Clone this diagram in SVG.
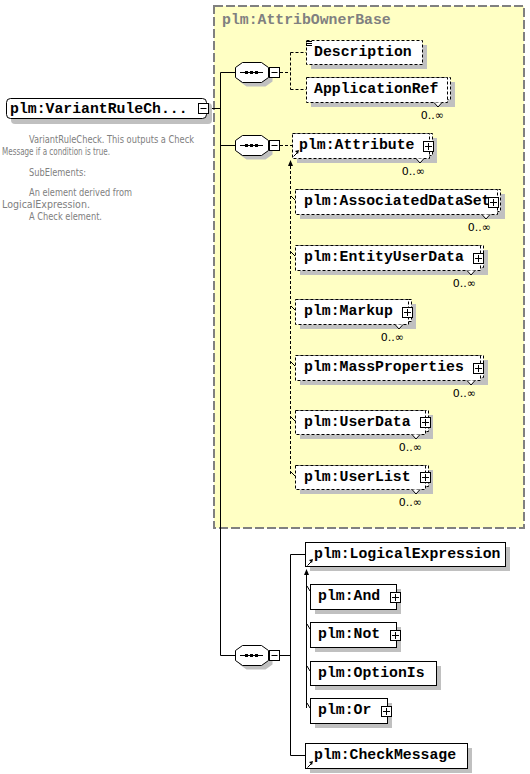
<svg xmlns="http://www.w3.org/2000/svg" xmlns:xlink="http://www.w3.org/1999/xlink" width="530" height="774" viewBox="0 0 530 774">
<style>
.box{fill:#fff;stroke:#000;stroke-width:1}
.dbox{fill:#fff;stroke:#000;stroke-width:1;stroke-dasharray:3 2}
.sh{fill:#c0c0c0}
.lbl{font-family:"Liberation Mono","DejaVu Sans Mono",monospace;font-weight:bold;font-size:14.8px;fill:#000}
.occ{font-family:"DejaVu Sans","Liberation Sans",sans-serif;font-size:11px;fill:#000}
.doc{font-family:"DejaVu Sans","Liberation Sans",sans-serif;font-size:10.3px;fill:#808080}
.ln{stroke:#000;stroke-width:1;fill:none}
.dl{stroke:#000;stroke-width:1;fill:none;stroke-dasharray:3 2}
.chev{fill:#fff;stroke:#000;stroke-width:1}
</style>
<defs>
<g id="plus"><rect x="0.5" y="0.5" width="10" height="10" fill="#fff" stroke="#000"/><path d="M2 5.5H9M5.5 2V9" stroke="#000" stroke-width="1"/></g>
<g id="minus"><rect x="0.5" y="0.5" width="10" height="10" fill="#fff" stroke="#000"/><path d="M2.5 5.5H8.5" stroke="#000"/></g>
<g id="seq">
<polygon points="11.5,4.5 30.5,4.5 37.5,9.5 37.5,19.5 30.5,24.5 11.5,24.5 4.5,19.5 4.5,9.5" fill="#c0c0c0"/>
<polygon points="7.5,0.5 26.5,0.5 33.5,5.5 33.5,15.5 26.5,20.5 7.5,20.5 0.5,15.5 0.5,5.5" fill="#fff" stroke="#000"/>
<path d="M5 10.5H28" stroke="#000"/>
<rect x="10" y="9" width="3" height="3" fill="#000"/><rect x="15" y="9" width="3" height="3" fill="#000"/><rect x="20" y="9" width="3" height="3" fill="#000"/>
<use xlink:href="#minus" x="34" y="5"/>
</g>
<g id="ref"><path d="M0.5 6.5L4 3" stroke="#000"/><polygon points="6,0 2,1 5,4" fill="#000"/></g>
</defs>

<g id="attribOwnerBase">
<rect x="214" y="6" width="310" height="522" fill="#ffffc4" stroke="#808080" stroke-width="2" stroke-dasharray="9 3"/>
<text class="lbl" x="222" y="24" style="fill:#808080">plm:AttribOwnerBase</text>
</g>

<g id="connectors">
<path class="ln" d="M208.5 108.5H220.5M220.5 72.5V655.5M220.5 72.5H235M220.5 145.5H235M220.5 655.5H235"/>
<path class="dl" d="M280 72.5H290.5M290.5 52.5V89.5M290.5 52.5H306M290.5 89.5H306"/>
<path class="dl" d="M280 145.5H292M290.5 166V476"/>
<polygon points="290.5,160 288,166 293,166" fill="#000"/>
<path class="ln" d="M291 196L295 200M291 252L295 256M291 306L295 310M291 362L295 366M291 417L295 421M291 472L295 476"/>
<path class="ln" d="M280 655.5H290.5M290.5 554.5V755.5M290.5 554.5H305M290.5 755.5H305"/>
<path class="ln" d="M306.5 574V708"/>
<polygon points="306.5,569 304,575 309,575" fill="#000"/>
<path class="ln" d="M307 586L310 591M307 624L310 629M307 666L310 671M307 703L310 708"/>
</g>

<g id="seq1"><use xlink:href="#seq" x="235" y="62"/></g>
<g id="seq2"><use xlink:href="#seq" x="235" y="135"/></g>
<g id="seq3"><use xlink:href="#seq" x="235" y="645"/></g>

<g id="root">
<rect class="sh" x="11" y="103" width="201" height="21" rx="4"/>
<rect class="box" x="6.5" y="98.5" width="200" height="20" rx="4"/>
<text class="lbl" x="10" y="113">plm:VariantRuleCh...</text>
<use xlink:href="#minus" x="198" y="103"/>
</g>

<g id="rootDoc">
<text class="doc" x="29" y="143" textLength="165" lengthAdjust="spacingAndGlyphs">VariantRuleCheck. This outputs a Check</text>
<text class="doc" x="2" y="155" textLength="108" lengthAdjust="spacingAndGlyphs">Message if a condition is true.</text>
<text class="doc" x="29" y="176" textLength="57" lengthAdjust="spacingAndGlyphs">SubElements:</text>
<text class="doc" x="29" y="196" textLength="103" lengthAdjust="spacingAndGlyphs">An element derived from</text>
<text class="doc" x="2" y="208" textLength="88" lengthAdjust="spacingAndGlyphs">LogicalExpression.</text>
<text class="doc" x="29" y="220" textLength="73" lengthAdjust="spacingAndGlyphs">A Check element.</text>
</g>

<g id="description">
<rect class="sh" x="311" y="45" width="116" height="24"/>
<rect class="dbox" x="306.5" y="40.5" width="116" height="24"/>
<path d="M306 41.5H312M306 43.5H312M306 45.5H312" stroke="#000"/>
<text class="lbl" x="314" y="56">Description</text>
</g>

<g id="applicationRef">
<rect class="sh" x="311" y="82" width="144" height="25"/>
<rect class="dbox" x="309.5" y="77.5" width="141" height="22"/>
<rect class="dbox" x="306.5" y="77.5" width="141" height="25"/>
<path class="chev" d="M434 102.5L438 107L442 102.5"/>
<text class="lbl" x="314" y="93">ApplicationRef</text>
<text class="occ" x="444" y="119" text-anchor="end">0..∞</text>
</g>

<g id="attribute">
<rect class="sh" x="297" y="138" width="140" height="25"/>
<rect class="dbox" x="295.5" y="133.5" width="137" height="22"/>
<rect class="dbox" x="292.5" y="133.5" width="137" height="25"/>
<path class="chev" d="M416 158.5L420 163L424 158.5"/>
<use xlink:href="#ref" x="293" y="150"/>
<text class="lbl" x="299" y="149">plm:Attribute</text>
<use xlink:href="#plus" x="423" y="141"/>
<text class="occ" x="425" y="175" text-anchor="end">0..∞</text>
</g>

<g id="associatedDataSet">
<rect class="sh" x="300" y="194" width="205" height="25"/>
<rect class="dbox" x="298.5" y="189.5" width="202" height="22"/>
<rect class="dbox" x="295.5" y="189.5" width="202" height="25"/>
<path class="chev" d="M482 214.5L486 219L490 214.5"/>
<text class="lbl" x="304" y="205">plm:AssociatedDataSet</text>
<use xlink:href="#plus" x="488" y="197"/>
<text class="occ" x="491" y="231" text-anchor="end">0..∞</text>
</g>

<g id="entityUserData">
<rect class="sh" x="300" y="250" width="188" height="25"/>
<rect class="dbox" x="298.5" y="245.5" width="185" height="22"/>
<rect class="dbox" x="295.5" y="245.5" width="185" height="25"/>
<path class="chev" d="M467 270.5L471 275L475 270.5"/>
<text class="lbl" x="304" y="261">plm:EntityUserData</text>
<use xlink:href="#plus" x="473" y="253"/>
<text class="occ" x="476" y="287" text-anchor="end">0..∞</text>
</g>

<g id="markup">
<rect class="sh" x="300" y="304" width="116" height="25"/>
<rect class="dbox" x="298.5" y="299.5" width="113" height="22"/>
<rect class="dbox" x="295.5" y="299.5" width="113" height="25"/>
<path class="chev" d="M395 324.5L399 329L403 324.5"/>
<text class="lbl" x="304" y="315">plm:Markup</text>
<use xlink:href="#plus" x="402" y="307"/>
<text class="occ" x="404" y="341" text-anchor="end">0..∞</text>
</g>

<g id="massProperties">
<rect class="sh" x="300" y="360" width="188" height="25"/>
<rect class="dbox" x="298.5" y="355.5" width="185" height="22"/>
<rect class="dbox" x="295.5" y="355.5" width="185" height="25"/>
<path class="chev" d="M467 380.5L471 385L475 380.5"/>
<text class="lbl" x="304" y="371">plm:MassProperties</text>
<use xlink:href="#plus" x="473" y="363"/>
<text class="occ" x="476" y="397" text-anchor="end">0..∞</text>
</g>

<g id="userData">
<rect class="sh" x="300" y="415" width="133" height="24"/>
<rect class="dbox" x="298.5" y="410.5" width="130" height="21"/>
<rect class="dbox" x="295.5" y="410.5" width="130" height="24"/>
<path class="chev" d="M412 434.5L416 439L420 434.5"/>
<text class="lbl" x="304" y="426">plm:UserData</text>
<use xlink:href="#plus" x="420" y="417"/>
<text class="occ" x="422" y="451" text-anchor="end">0..∞</text>
</g>

<g id="userList">
<rect class="sh" x="300" y="470" width="133" height="24"/>
<rect class="dbox" x="298.5" y="465.5" width="130" height="21"/>
<rect class="dbox" x="295.5" y="465.5" width="130" height="24"/>
<path class="chev" d="M412 489.5L416 494L420 489.5"/>
<text class="lbl" x="304" y="481">plm:UserList</text>
<use xlink:href="#plus" x="420" y="472"/>
<text class="occ" x="422" y="506" text-anchor="end">0..∞</text>
</g>

<g id="logicalExpression">
<rect class="sh" x="310" y="547" width="200" height="24"/>
<rect class="box" x="305.5" y="542.5" width="200" height="24"/>
<use xlink:href="#ref" x="307" y="559"/>
<text class="lbl" x="314" y="558">plm:LogicalExpression</text>
</g>

<g id="and">
<rect class="sh" x="315" y="589" width="86" height="25"/>
<rect class="box" x="310.5" y="584.5" width="86" height="25"/>
<text class="lbl" x="318" y="600">plm:And</text>
<use xlink:href="#plus" x="390" y="592"/>
</g>

<g id="not">
<rect class="sh" x="315" y="627" width="86" height="25"/>
<rect class="box" x="310.5" y="622.5" width="86" height="25"/>
<text class="lbl" x="318" y="638">plm:Not</text>
<use xlink:href="#plus" x="390" y="630"/>
</g>

<g id="optionIs">
<rect class="sh" x="315" y="666" width="126" height="24"/>
<rect class="box" x="310.5" y="661.5" width="126" height="24"/>
<text class="lbl" x="318" y="677">plm:OptionIs</text>
</g>

<g id="or">
<rect class="sh" x="315" y="703" width="77" height="25"/>
<rect class="box" x="310.5" y="698.5" width="77" height="25"/>
<text class="lbl" x="318" y="714">plm:Or</text>
<use xlink:href="#plus" x="381" y="706"/>
</g>

<g id="checkMessage">
<rect class="sh" x="310" y="748" width="162" height="25"/>
<rect class="box" x="305.5" y="743.5" width="162" height="25"/>
<use xlink:href="#ref" x="307" y="761"/>
<text class="lbl" x="314" y="759">plm:CheckMessage</text>
</g>
</svg>
